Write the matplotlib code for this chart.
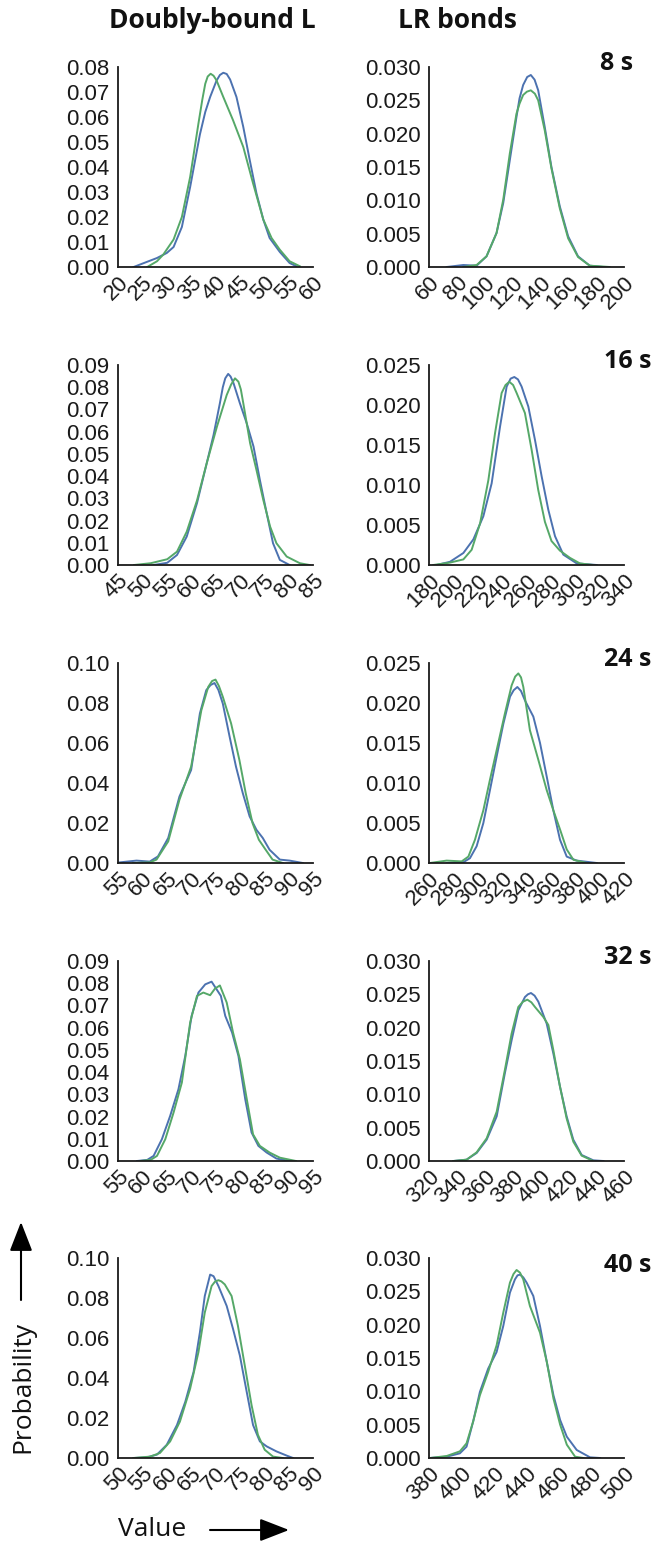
import matplotlib
matplotlib.use("Agg")
import matplotlib.pyplot as plt
import numpy as np

# ---------------- data ----------------
col_titles = ["Doubly-bound L", "LR bonds"]
row_labels = ["8 s", "16 s", "24 s", "32 s", "40 s"]

# x limits / tick steps and y limits / tick steps for each panel (row, col)
xlims = [[(20, 60), (60, 200)],
         [(45, 85), (180, 340)],
         [(55, 95), (260, 420)],
         [(55, 95), (320, 460)],
         [(50, 90), (380, 500)]]
xsteps = [[5, 20], [5, 20], [5, 20], [5, 20], [5, 20]]
ytops = [[0.08, 0.030], [0.09, 0.025], [0.10, 0.025], [0.09, 0.030], [0.10, 0.030]]
ysteps = [[0.01, 0.005], [0.01, 0.005], [0.02, 0.005], [0.01, 0.005], [0.02, 0.005]]
yfmts = [["%.2f", "%.3f"]] * 5

# ---- row 1 (8 s) ----
r1l_blue_x = [23.2, 28.0, 30.0, 31.4, 33.1, 34.8, 36.8, 37.9, 38.9, 40.2, 40.9, 41.6, 42.3, 43.0, 44.3, 45.7, 47.0, 48.4, 49.8, 51.1, 53.2, 55.2, 56.6]
r1l_blue_y = [0, 0.0036, 0.0056, 0.008, 0.016, 0.032, 0.053, 0.062, 0.068, 0.0745, 0.0768, 0.0777, 0.0772, 0.075, 0.068, 0.056, 0.043, 0.0295, 0.019, 0.0116, 0.006, 0.0016, 0.0003]
r1l_green_x = [26.0, 28.0, 29.3, 31.4, 33.1, 34.8, 36.5, 37.3, 37.9, 38.4, 39.0, 39.6, 40.2, 41.6, 43.6, 45.7, 47.7, 49.8, 51.5, 53.2, 55.2, 57.3]
r1l_green_y = [0, 0.0023, 0.005, 0.011, 0.020, 0.036, 0.0574, 0.067, 0.0733, 0.0762, 0.0773, 0.0765, 0.0747, 0.068, 0.0587, 0.048, 0.0335, 0.019, 0.0116, 0.0069, 0.0023, 0.0003]

r1r_blue_x = [72.7, 84.6, 94.2, 101.3, 108.5, 113.3, 118.0, 122.8, 125.0, 127.6, 130.5, 133.1, 135.8, 138.4, 143.1, 147.9, 153.9, 159.9, 167.0, 175.4, 185.0]
r1r_blue_y = [0, 0.0003, 0.0002, 0.0016, 0.0051, 0.0096, 0.016, 0.0225, 0.0253, 0.0273, 0.0285, 0.0288, 0.0281, 0.0265, 0.021, 0.015, 0.0091, 0.0046, 0.0016, 0.0002, 0]
r1r_green_x = [84.6, 94.2, 101.3, 108.5, 113.3, 118.0, 122.8, 125.0, 127.6, 130.3, 133.1, 136.0, 138.4, 143.1, 147.9, 153.9, 159.9, 167.0, 175.4, 189.7]
r1r_green_y = [0, 0.0003, 0.0016, 0.0051, 0.0101, 0.017, 0.023, 0.0245, 0.0258, 0.0263, 0.0265, 0.0260, 0.025, 0.0205, 0.0148, 0.0088, 0.0043, 0.0015, 0.0002, 0]

# ---- row 2 (16 s) ----
r2l_blue_x = [52.3, 55.1, 57.1, 59.1, 61.2, 63.2, 64.6, 65.9, 66.5, 67.0, 67.6, 68.1, 68.7, 70.0, 71.4, 72.8, 74.1, 75.5, 76.8, 78.2, 80.2]
r2l_blue_y = [0, 0.001, 0.0045, 0.0128, 0.0278, 0.0458, 0.0585, 0.0728, 0.080, 0.084, 0.086, 0.0848, 0.0818, 0.0728, 0.0638, 0.0533, 0.0383, 0.0233, 0.0098, 0.0023, 0]
r2l_green_x = [48.3, 51.7, 55.1, 57.1, 59.1, 61.2, 63.2, 65.3, 67.3, 68.2, 69.0, 69.7, 70.2, 70.7, 72.1, 73.4, 74.8, 76.2, 77.5, 79.6, 82.3, 84.3]
r2l_green_y = [0, 0.0008, 0.0026, 0.006, 0.015, 0.029, 0.0458, 0.0623, 0.0765, 0.0812, 0.084, 0.0825, 0.079, 0.0728, 0.0548, 0.0428, 0.0293, 0.0173, 0.0098, 0.0038, 0.0008, 0]

r2r_blue_x = [186.3, 197.2, 208.2, 216.4, 224.6, 231.4, 238.3, 243.7, 247.0, 250.0, 253.0, 256.0, 261.5, 267.0, 272.4, 277.9, 283.4, 290.2, 301.2, 317.6]
r2r_blue_y = [0, 0.0004, 0.0015, 0.0032, 0.0061, 0.0102, 0.0173, 0.0223, 0.0233, 0.0235, 0.0232, 0.0223, 0.0198, 0.0156, 0.0111, 0.0069, 0.0036, 0.0013, 0.0002, 0]
r2r_green_x = [183.5, 197.2, 208.2, 215.0, 221.9, 228.7, 234.2, 239.6, 242.8, 245.9, 249.0, 251.9, 258.7, 264.2, 269.6, 275.1, 280.5, 287.4, 295.6, 303.8, 314.7]
r2r_green_y = [0, 0.0003, 0.0007, 0.0019, 0.0052, 0.0106, 0.0165, 0.0215, 0.0225, 0.0229, 0.0225, 0.0215, 0.019, 0.0144, 0.0094, 0.0054, 0.003, 0.0018, 0.0009, 0.0002, 0]

# ---- row 3 (24 s) ----
r3l_blue_x = [55.3, 58.8, 61.5, 63.2, 65.3, 67.6, 70.0, 71.8, 73.1, 74.0, 74.8, 75.6, 76.5, 77.9, 79.2, 80.6, 82.0, 83.4, 84.7, 86.1, 88.2, 90.2, 92.9]
r3l_blue_y = [0.0003, 0.0012, 0.0007, 0.0033, 0.0125, 0.0332, 0.0465, 0.0748, 0.0864, 0.089, 0.090, 0.0865, 0.0797, 0.0631, 0.0482, 0.0349, 0.0233, 0.0166, 0.0125, 0.0066, 0.0017, 0.0012, 0]
r3l_green_x = [58.1, 61.5, 62.9, 65.3, 67.6, 70.0, 72.1, 73.5, 74.3, 75.0, 75.7, 76.5, 78.2, 79.9, 81.2, 82.6, 83.9, 85.3, 86.7, 88.8]
r3l_green_y = [0, 0.0003, 0.0017, 0.0108, 0.0316, 0.0482, 0.0764, 0.088, 0.091, 0.0917, 0.0885, 0.0831, 0.0698, 0.0515, 0.0349, 0.0199, 0.0116, 0.0066, 0.0017, 0]

r3r_blue_x = [274.5, 288.2, 293.6, 299.1, 304.6, 310.0, 315.5, 321.0, 326.5, 329.5, 332.5, 335.5, 338.8, 345.6, 351.1, 356.6, 362.0, 367.5, 373.0, 381.2, 397.6]
r3r_blue_y = [0, 0.0001, 0.0006, 0.0021, 0.005, 0.0091, 0.0133, 0.0174, 0.0208, 0.0216, 0.022, 0.0215, 0.0203, 0.0183, 0.015, 0.0108, 0.0066, 0.0029, 0.0008, 0.0003, 0]
r3r_green_x = [260.8, 274.5, 286.8, 292.3, 297.7, 304.6, 310.0, 315.5, 322.3, 327.8, 330.7, 333.3, 335.5, 337.4, 342.8, 349.7, 356.6, 362.0, 367.5, 373.0, 378.5, 389.4]
r3r_green_y = [0, 0.0003, 0.0002, 0.0008, 0.0029, 0.0066, 0.0104, 0.0141, 0.0187, 0.0222, 0.0233, 0.0237, 0.0232, 0.022, 0.0166, 0.0129, 0.0091, 0.0066, 0.0042, 0.0017, 0.0004, 0]

# ---- row 4 (32 s) ----
r4l_blue_x = [58.9, 61.0, 62.3, 64.0, 65.7, 67.4, 68.8, 70.1, 71.5, 72.9, 74.2, 76.1, 77.0, 78.4, 79.7, 81.1, 82.4, 83.8, 85.5, 87.5, 90.2]
r4l_blue_y = [0, 0.0005, 0.0023, 0.0098, 0.0203, 0.0323, 0.0473, 0.0653, 0.0758, 0.0795, 0.0807, 0.0743, 0.0653, 0.0578, 0.0473, 0.0278, 0.0128, 0.0068, 0.0038, 0.0011, 0]
r4l_green_x = [59.6, 61.7, 63.0, 64.7, 66.4, 68.1, 69.8, 71.2, 72.5, 73.9, 74.9, 75.9, 77.3, 78.6, 80.0, 81.3, 82.7, 84.1, 86.1, 88.2, 91.5]
r4l_green_y = [0, 0.0005, 0.0023, 0.0098, 0.0218, 0.0353, 0.0623, 0.0743, 0.0758, 0.0746, 0.0776, 0.079, 0.0713, 0.0578, 0.0458, 0.0293, 0.012, 0.0068, 0.0038, 0.0015, 0]

r4r_blue_x = [337.5, 347.0, 354.2, 361.4, 368.6, 374.5, 379.3, 384.1, 388.9, 391.0, 393.2, 395.8, 398.5, 404.5, 409.3, 414.0, 418.8, 423.6, 429.6, 438.0, 445.2]
r4r_blue_y = [0, 0.0002, 0.0012, 0.0032, 0.0067, 0.0132, 0.0181, 0.0226, 0.0246, 0.0250, 0.0252, 0.0248, 0.0239, 0.0206, 0.0161, 0.0112, 0.0067, 0.0032, 0.0009, 0.0001, 0]
r4r_green_x = [337.5, 347.0, 354.2, 361.4, 368.6, 374.5, 379.3, 384.1, 387.5, 390.6, 393.5, 396.1, 402.1, 405.7, 409.3, 414.0, 418.8, 423.6, 429.6, 438.0]
r4r_green_y = [0, 0.0002, 0.0013, 0.0034, 0.0074, 0.0137, 0.0191, 0.0231, 0.0239, 0.0242, 0.0238, 0.0231, 0.0216, 0.0204, 0.0166, 0.0112, 0.0064, 0.0029, 0.0008, 0]

# ---- row 5 (40 s) ----
r5l_blue_x = [53.2, 55.9, 58.0, 60.0, 62.1, 63.8, 65.5, 66.8, 67.8, 68.9, 69.6, 70.6, 72.3, 73.6, 75.0, 76.4, 77.7, 79.1, 80.5, 82.5, 84.6, 85.9]
r5l_blue_y = [0, 0.0003, 0.0017, 0.0066, 0.0165, 0.0281, 0.043, 0.0628, 0.081, 0.0917, 0.0909, 0.086, 0.076, 0.0645, 0.0512, 0.0331, 0.0165, 0.0083, 0.0058, 0.0033, 0.0012, 0]
r5l_green_x = [53.2, 56.6, 58.6, 60.7, 62.7, 64.8, 66.5, 67.8, 69.2, 69.9, 70.6, 71.2, 71.9, 73.3, 74.6, 76.0, 77.4, 78.7, 80.1, 81.8, 83.8]
r5l_green_y = [0, 0.0007, 0.0025, 0.0083, 0.0182, 0.0347, 0.0529, 0.0727, 0.086, 0.0882, 0.0889, 0.0883, 0.0868, 0.081, 0.0661, 0.0463, 0.0264, 0.0116, 0.0041, 0.0007, 0]

r5r_blue_x = [380.6, 390.9, 399.0, 403.1, 407.2, 411.3, 416.4, 421.6, 425.7, 429.8, 432.9, 434.5, 436.0, 438.0, 440.1, 444.2, 448.3, 452.5, 456.6, 460.7, 464.8, 470.9, 479.1, 485.3]
r5r_blue_y = [0, 0.0002, 0.0007, 0.0017, 0.0055, 0.0099, 0.0134, 0.0159, 0.0198, 0.0248, 0.0268, 0.0274, 0.0275, 0.0271, 0.0263, 0.0243, 0.0198, 0.0144, 0.0094, 0.0057, 0.0032, 0.0012, 0.0001, 0]
r5r_green_x = [380.6, 390.9, 399.0, 403.1, 407.2, 411.3, 416.4, 421.6, 425.7, 429.8, 432.0, 433.9, 436.0, 438.0, 442.1, 448.3, 452.5, 456.6, 460.7, 464.8, 469.9, 475.0]
r5r_green_y = [0, 0.0003, 0.001, 0.0022, 0.0055, 0.0094, 0.0129, 0.0169, 0.0218, 0.0263, 0.0276, 0.0282, 0.0278, 0.0268, 0.0228, 0.0188, 0.0144, 0.0089, 0.005, 0.002, 0.0002, 0]

curves = [
    [((r1l_blue_x, r1l_blue_y), (r1l_green_x, r1l_green_y)), ((r1r_blue_x, r1r_blue_y), (r1r_green_x, r1r_green_y))],
    [((r2l_blue_x, r2l_blue_y), (r2l_green_x, r2l_green_y)), ((r2r_blue_x, r2r_blue_y), (r2r_green_x, r2r_green_y))],
    [((r3l_blue_x, r3l_blue_y), (r3l_green_x, r3l_green_y)), ((r3r_blue_x, r3r_blue_y), (r3r_green_x, r3r_green_y))],
    [((r4l_blue_x, r4l_blue_y), (r4l_green_x, r4l_green_y)), ((r4r_blue_x, r4r_blue_y), (r4r_green_x, r4r_green_y))],
    [((r5l_blue_x, r5l_blue_y), (r5l_green_x, r5l_green_y)), ((r5r_blue_x, r5r_blue_y), (r5r_green_x, r5r_green_y))],
]

# ---------------- layout ----------------
W, H = 659, 1544
DPI = 100
BLUE = "#4C72B0"
GREEN = "#55A868"
TICK_FONT = "Liberation Sans"
LABEL_FONT = "Open Sans"

fig = plt.figure(figsize=(W / DPI, H / DPI), dpi=DPI)


def fx(px):
    return px / W


def fy(py):
    return 1 - py / H


col_left = [118, 429]
ax_w = 195
ax_h = 200
row_top = [67, 365, 663, 961, 1258]
row_label_right = [633, 651, 651, 651, 651]
row_label_y = [63, 362, 660, 958, 1265]

for r in range(5):
    for c in range(2):
        ax = fig.add_axes([fx(col_left[c]), fy(row_top[r] + ax_h), ax_w / W, ax_h / H])
        (bx, by), (gx, gy) = curves[r][c]
        ax.plot(bx, by, color=BLUE, lw=1.4, solid_joinstyle="round")
        ax.plot(gx, gy, color=GREEN, lw=1.4, solid_joinstyle="round")
        x0, x1 = xlims[r][c]
        ax.set_xlim(x0, x1)
        ax.set_ylim(0, ytops[r][c])
        xt = np.arange(x0, x1 + 0.001, xsteps[r][c])
        ax.set_xticks(xt)
        ax.set_xticklabels([str(int(v)) for v in xt])
        nyt = int(round(ytops[r][c] / ysteps[r][c]))
        yt = [i * ysteps[r][c] for i in range(nyt + 1)]
        ax.set_yticks(yt)
        ax.set_yticklabels([yfmts[r][c] % v for v in yt])
        for s in ["top", "right"]:
            ax.spines[s].set_visible(False)
        for s in ["left", "bottom"]:
            ax.spines[s].set_linewidth(1.3)
            ax.spines[s].set_color("#1a1a1a")
        ax.tick_params(axis="both", length=0, labelsize=16, colors="#1a1a1a")
        ax.tick_params(axis="y", pad=6)
        ax.tick_params(axis="x", pad=4)
        for lab in ax.get_xticklabels():
            lab.set_rotation(45)
            lab.set_ha("right")
            lab.set_va("top")
            lab.set_rotation_mode("anchor")
            lab.set_fontfamily(TICK_FONT)
        for lab in ax.get_yticklabels():
            lab.set_fontfamily(TICK_FONT)
        ax.patch.set_alpha(0)
    fig.text(fx(row_label_right[r]), fy(row_label_y[r]), row_labels[r], ha="right", va="center",
             fontsize=18, fontweight="bold", fontfamily=LABEL_FONT, color="#111111")

# column titles
fig.text(fx(212), fy(20), col_titles[0], ha="center", va="center", fontsize=19,
         fontweight="bold", fontfamily=LABEL_FONT, color="#111111")
fig.text(fx(457), fy(20), col_titles[1], ha="center", va="center", fontsize=19,
         fontweight="bold", fontfamily=LABEL_FONT, color="#111111")

# axis descriptors with arrows
fig.text(fx(23), fy(1387), "Probability", rotation=90, ha="center", va="center",
         fontsize=19, fontfamily=LABEL_FONT, color="#111111")
fig.text(fx(152), fy(1530), "Value", ha="center", va="center",
         fontsize=19, fontfamily=LABEL_FONT, color="#111111")
arrow_style = dict(arrowstyle="-|>,head_length=0.9,head_width=0.35", color="black", lw=1.5,
                   shrinkA=0, shrinkB=0)
fig.add_artist(matplotlib.patches.FancyArrowPatch((fx(21), fy(1300)), (fx(21), fy(1222)),
                                                   transform=fig.transFigure, mutation_scale=20, **arrow_style))
fig.add_artist(matplotlib.patches.FancyArrowPatch((fx(210), fy(1530)), (fx(289), fy(1530)),
                                                   transform=fig.transFigure, mutation_scale=20, **arrow_style))

fig.savefig("out.png", dpi=DPI, facecolor="white")
